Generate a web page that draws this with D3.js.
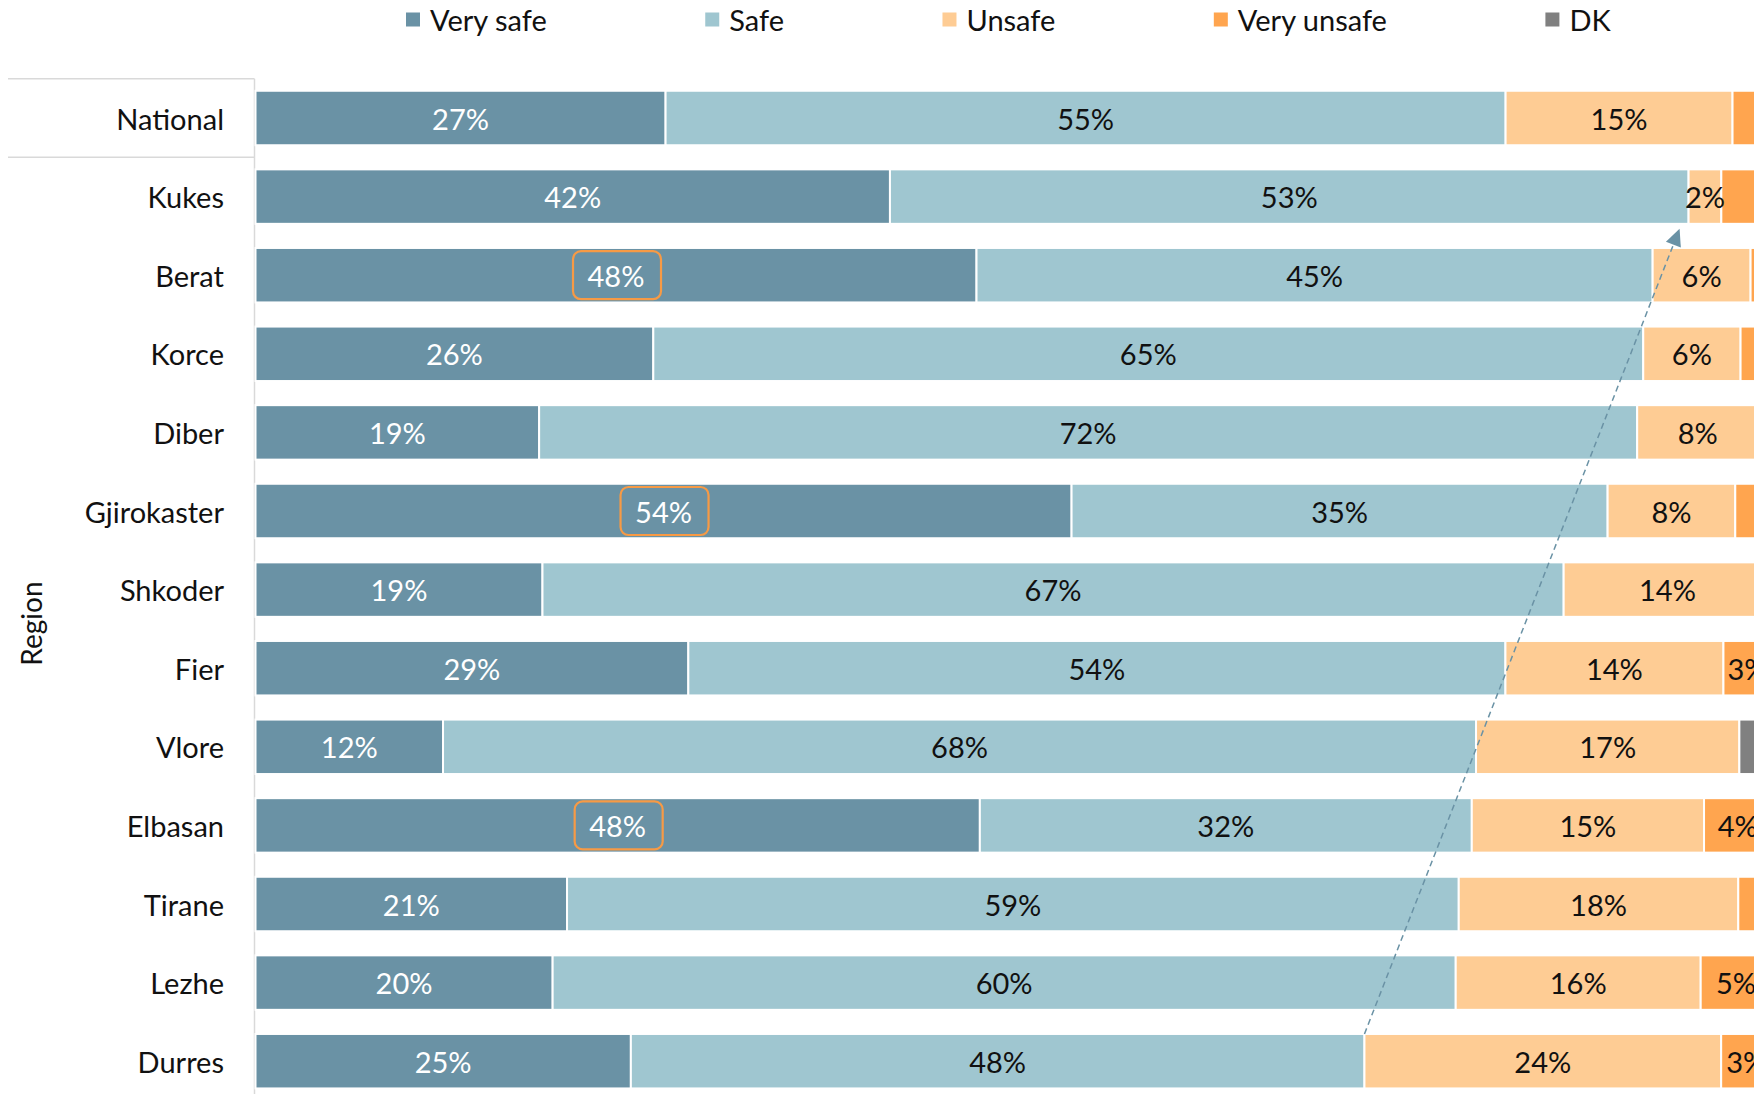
<!DOCTYPE html>
<html><head><meta charset="utf-8">
<script src="https://cdn.jsdelivr.net/npm/d3@7"></script>
<style>
html,body{margin:0;padding:0;background:#fff;}
svg{display:block;font-family:Lato,"Open Sans",sans-serif;}
</style></head>
<body>
<svg id="chart" width="1754" height="1094"></svg>
<script>
const regions = ["National","Kukes","Berat","Korce","Diber","Gjirokaster","Shkoder","Fier","Vlore","Elbasan","Tirane","Lezhe","Durres"];
const seriesNames = ["Very safe","Safe","Unsafe","Very unsafe","DK"];
const verySafe   = [27.05,41.85,47.56,26.24,18.71,53.83,18.93,28.55,12.37,47.78,20.55,19.60,24.76];
const safe       = [55.41,52.68,44.60,65.30,72.43,35.36,67.36,53.90,68.14,32.45,58.82,59.57,48.39];
const unsafe     = [14.97, 2.16, 6.46, 6.42, 8.00, 8.42,13.70,14.38,17.37,15.32,18.44,16.16,23.53];
const veryUnsafe = [ 2.57, 3.31, 1.38, 2.04, 0.86, 2.39, 0.00, 3.17, 0.00, 4.45, 2.19, 4.67, 3.32];
const dk         = [ 0, 0, 0, 0, 0, 0, 0, 0, 2.12, 0, 0, 0, 0];
const vuLabelRows = ["Fier","Elbasan","Lezhe","Durres"];
const highlightRows = ["Berat","Gjirokaster","Elbasan"];
const arrowFrom = "Durres", arrowTo = "Kukes";
const yAxisTitle = "Region";

const colors = ["#6a92a5","#9fc6d0","#fecc94","#ffa54f","#808080"];
const textColors = ["#ffffff","#111111","#111111","#111111","#111111"];
const seriesValues = [verySafe, safe, unsafe, veryUnsafe, dk];

const svg = d3.select("#chart");
const W = 1754, H = 1094;
const x = d3.scaleLinear().domain([0,100]).range([255.5, 1771.5]);
const y = d3.scaleBand().domain(regions).range([78.7, 78.7 + 13*78.6]).paddingInner(0.307).paddingOuter(0.1535);
const step = y.step(), bw = y.bandwidth();
const cellTop = r => y(r) - (step - bw)/2;

const rows = regions.map((r,i) => {
  let c = 0;
  const segs = seriesValues.map((arr,k) => {
    const s = {region:r, k, v:arr[i], x0:c, x1:c+arr[i]};
    c += arr[i];
    return s;
  });
  return {region:r, segs};
});

const FS = 29;
// header lines and axis
svg.append("line").attr("x1",8).attr("x2",x(0)-1).attr("y1",cellTop(regions[0])).attr("y2",cellTop(regions[0]))
  .attr("stroke","#d9d9d9").attr("stroke-width",1.5);
svg.append("line").attr("x1",8).attr("x2",x(0)-1).attr("y1",cellTop(regions[1])).attr("y2",cellTop(regions[1]))
  .attr("stroke","#d9d9d9").attr("stroke-width",1.5);
svg.append("line").attr("x1",x(0)-1).attr("x2",x(0)-1).attr("y1",cellTop(regions[0])).attr("y2",H)
  .attr("stroke","#d9d9d9").attr("stroke-width",1.5);

// bars
const g = svg.append("g");
rows.forEach(row => {
  g.selectAll(null).data(row.segs.filter(s=>s.v>0)).enter().append("rect")
    .attr("x", s=>x(s.x0)).attr("width", s=>x(s.x1)-x(s.x0))
    .attr("y", y(row.region)).attr("height", bw)
    .attr("fill", s=>colors[s.k]).attr("stroke","#ffffff").attr("stroke-width",2);
});

// labels
rows.forEach(row => {
  const lab = row.segs.filter(s => s.v>0 && (s.k<3 || (s.k===3 && vuLabelRows.includes(row.region))));
  g.selectAll(null).data(lab).enter().append("text")
    .attr("x", s=>(x(s.x0)+x(s.x1))/2).attr("y", y(row.region)+bw/2)
    .attr("text-anchor","middle").attr("dominant-baseline","central")
    .attr("font-size",FS).attr("fill", s=>textColors[s.k])
    .text(s=>Math.round(s.v)+"%");
});

// highlight boxes
rows.filter(r=>highlightRows.includes(r.region)).forEach(row => {
  const s = row.segs[0];
  const cx = (x(s.x0)+x(s.x1))/2, cy = y(row.region)+bw/2;
  svg.append("rect").attr("x",cx-43).attr("y",cy-24).attr("width",88).attr("height",48)
    .attr("rx",8).attr("ry",8).attr("fill","none").attr("stroke","#f79a45").attr("stroke-width",2.2);
});

// row labels
svg.selectAll(".rl").data(regions).enter().append("text")
  .attr("x",224).attr("y",r=>y(r)+bw/2).attr("text-anchor","end").attr("dominant-baseline","central")
  .attr("font-size",FS).attr("fill","#111").text(r=>r);

// axis title
svg.append("text").attr("transform","translate(31,"+ (y(regions[6])+bw/2+34) +") rotate(-90)")
  .attr("text-anchor","middle").attr("dominant-baseline","central").attr("font-size",28).attr("fill","#111").text(yAxisTitle);

// arrow
const iF = regions.indexOf(arrowFrom), iT = regions.indexOf(arrowTo);
const sx = x(verySafe[iF]+safe[iF]), sy = y(arrowFrom);
const tx = x(verySafe[iT]+safe[iT]) - 9, ty = y(arrowTo)+bw+5;
const ang = Math.atan2(ty-sy, tx-sx);
const headL = 17, headW = 8;
const bx = tx - headL*Math.cos(ang), by = ty - headL*Math.sin(ang);
svg.append("line").attr("x1",sx).attr("y1",sy).attr("x2",bx).attr("y2",by)
  .attr("stroke","#6a92a5").attr("stroke-width",1.5).attr("stroke-dasharray","6,4");
svg.append("path").attr("d", d3.line()([
  [tx,ty],
  [bx + headW*Math.sin(ang), by - headW*Math.cos(ang)],
  [bx - headW*Math.sin(ang), by + headW*Math.cos(ang)]
]) + "Z").attr("fill","#6a92a5");

// legend
const leg = svg.append("g");
let lx = 406;
seriesNames.forEach((n,k) => {
  leg.append("rect").attr("x",lx).attr("y",12.5).attr("width",14).attr("height",14).attr("fill",colors[k]);
  const t = leg.append("text").attr("x",lx+24).attr("y",19).attr("dominant-baseline","central")
    .attr("font-size",FS).attr("fill","#111").text(n);
  lx += 24 + t.node().getComputedTextLength() + 158.5;
});
</script>
</body></html>
